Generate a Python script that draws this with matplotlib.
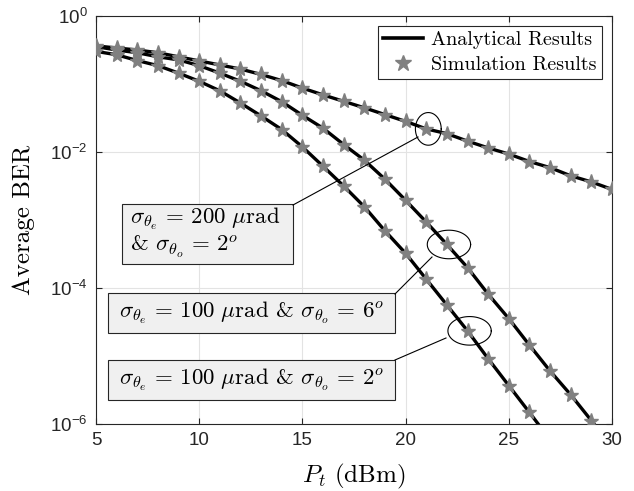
import numpy as np
import matplotlib
matplotlib.use('Agg')
import matplotlib.pyplot as plt
from matplotlib.patches import Rectangle
from matplotlib.ticker import FuncFormatter, FixedLocator, NullLocator

plt.rcParams['mathtext.fontset'] = 'cm'
plt.rcParams['axes.unicode_minus'] = False

pt = np.arange(5, 31)

# log10 of average BER
ber_200_2 = [-0.44, -0.47, -0.50, -0.54, -0.60, -0.66, -0.72, -0.78, -0.86, -0.95,
             -1.06, -1.16, -1.255, -1.35, -1.45, -1.55, -1.66, -1.73, -1.84, -1.94,
             -2.03, -2.14, -2.23, -2.35, -2.44, -2.55]
ber_100_6 = [-0.45, -0.50, -0.54, -0.60, -0.645, -0.73, -0.84, -0.96, -1.10, -1.26,
             -1.46, -1.65, -1.89, -2.12, -2.40, -2.71, -3.03, -3.36, -3.70, -4.09,
             -4.45, -4.84, -5.22, -5.57, -5.95, -6.33]
ber_100_2 = [-0.52, -0.57, -0.655, -0.73, -0.84, -0.96, -1.10, -1.28, -1.47, -1.67,
             -1.925, -2.21, -2.50, -2.805, -3.16, -3.49, -3.87, -4.25, -4.63, -5.04,
             -5.435, -5.83, -6.23, -6.63, -7.03, -7.43]

series = [ber_200_2, ber_100_6, ber_100_2]

fig = plt.figure(figsize=(6.34, 4.91), dpi=100)
ax = fig.add_axes([96/634, 1-424/491, (612-96)/634, (424-16)/491])

for s in series:
    y = 10.0 ** np.array(s)
    ax.semilogy(pt, y, color='black', lw=2.4, zorder=3)
    ax.semilogy(pt, y, ls='none', marker='*', ms=11, color='#808080', mec='#808080', zorder=4)

ax.set_xlim(5, 30)
ax.set_ylim(1e-6, 1)
ax.xaxis.set_major_locator(FixedLocator([5, 10, 15, 20, 25, 30]))
ax.yaxis.set_major_locator(FixedLocator([1e-6, 1e-4, 1e-2, 1]))
ax.yaxis.set_minor_locator(NullLocator())
ax.yaxis.set_major_formatter(FuncFormatter(lambda v, p: r'$\mathregular{10^{%d}}$' % round(np.log10(v))))
ax.grid(True, color='#e3e3e3', lw=0.8)
ax.set_axisbelow(True)
ax.tick_params(direction='in', top=True, right=True, length=4, color='#262626',
               labelsize=13.5, pad=6)
for lab in ax.get_xticklabels() + ax.get_yticklabels():
    lab.set_fontfamily('Liberation Sans')
    lab.set_color('#262626')
for sp in ax.spines.values():
    sp.set_color('#262626')
    sp.set_linewidth(0.8)

ax.set_xlabel(r'$P_t$ (dBm)', fontsize=18, family='cmr10', labelpad=2)
ax.set_ylabel('Average BER', fontsize=18, family='cmr10', labelpad=11)
ax.xaxis.set_label_coords(0.5, -0.094)

# legend
h1, = ax.plot([], [], color='black', lw=2.6)
h2, = ax.plot([], [], ls='none', marker='*', ms=12, color='#808080')
leg = ax.legend([h1, h2], ['Analytical Results', 'Simulation Results'], loc='upper right',
                fancybox=False, edgecolor='#262626', framealpha=1, borderaxespad=0.5,
                prop={'family': 'cmr10', 'size': 14.5}, handlelength=2.0,
                borderpad=0.25, labelspacing=0.35, handletextpad=0.4)
leg.get_frame().set_linewidth(0.8)

# annotations (pixel coordinates converted to figure fraction)
def fx(px):
    return px / 634.0

def fy(py):
    return 1 - py / 491.0

boxes = [(122, 204, 293, 264), (108, 293, 395, 333), (108, 360, 395, 400)]
for x0, y0, x1, y1 in boxes:
    fig.add_artist(Rectangle((fx(x0), fy(y1)), fx(x1) - fx(x0), fy(y0) - fy(y1),
                             transform=fig.transFigure, fc='#f0f0f0', ec='#262626', lw=0.8))

fig.text(fx(130), fy(219), r'$\sigma_{\theta_e}\,=\,200\ \mu\mathrm{rad}$',
         fontsize=16.5, va='center', ha='left', family='cmr10')
fig.text(fx(130), fy(247), r'& $\sigma_{\theta_o}\,=\,2^o$',
         fontsize=16.5, va='center', ha='left', family='cmr10')
fig.text(fx(251.5), fy(313), r'$\sigma_{\theta_e}\,=\,100\ \mu\mathrm{rad}$ & $\sigma_{\theta_o}\,=\,6^o$',
         fontsize=16.5, va='center', ha='center', family='cmr10')
fig.text(fx(251.5), fy(380), r'$\sigma_{\theta_e}\,=\,100\ \mu\mathrm{rad}$ & $\sigma_{\theta_o}\,=\,2^o$',
         fontsize=16.5, va='center', ha='center', family='cmr10')

# ellipses around chosen points, drawn in linear x / log y
ells = [(21, ber_200_2[16], 1.25, 0.48), (22, ber_100_6[17], 2.1, 0.42), (23, ber_100_2[18], 2.1, 0.42)]
ang = np.linspace(0, 2 * np.pi, 100)
for cx, cy, w, h in ells:
    ex = cx + 0.1 + w / 2 * np.cos(ang)
    ey = 10 ** (cy + h / 2 * np.sin(ang))
    ax.plot(ex, ey, color='black', lw=0.8, zorder=5)

lines = [((293, 205), (418, 137)), ((395, 294), (432, 257)), ((395, 360), (446, 338))]
for (x0, y0), (x1, y1) in lines:
    fig.add_artist(plt.Line2D([fx(x0), fx(x1)], [fy(y0), fy(y1)], color='black', lw=0.8))

fig.savefig('out.png', dpi=100)
